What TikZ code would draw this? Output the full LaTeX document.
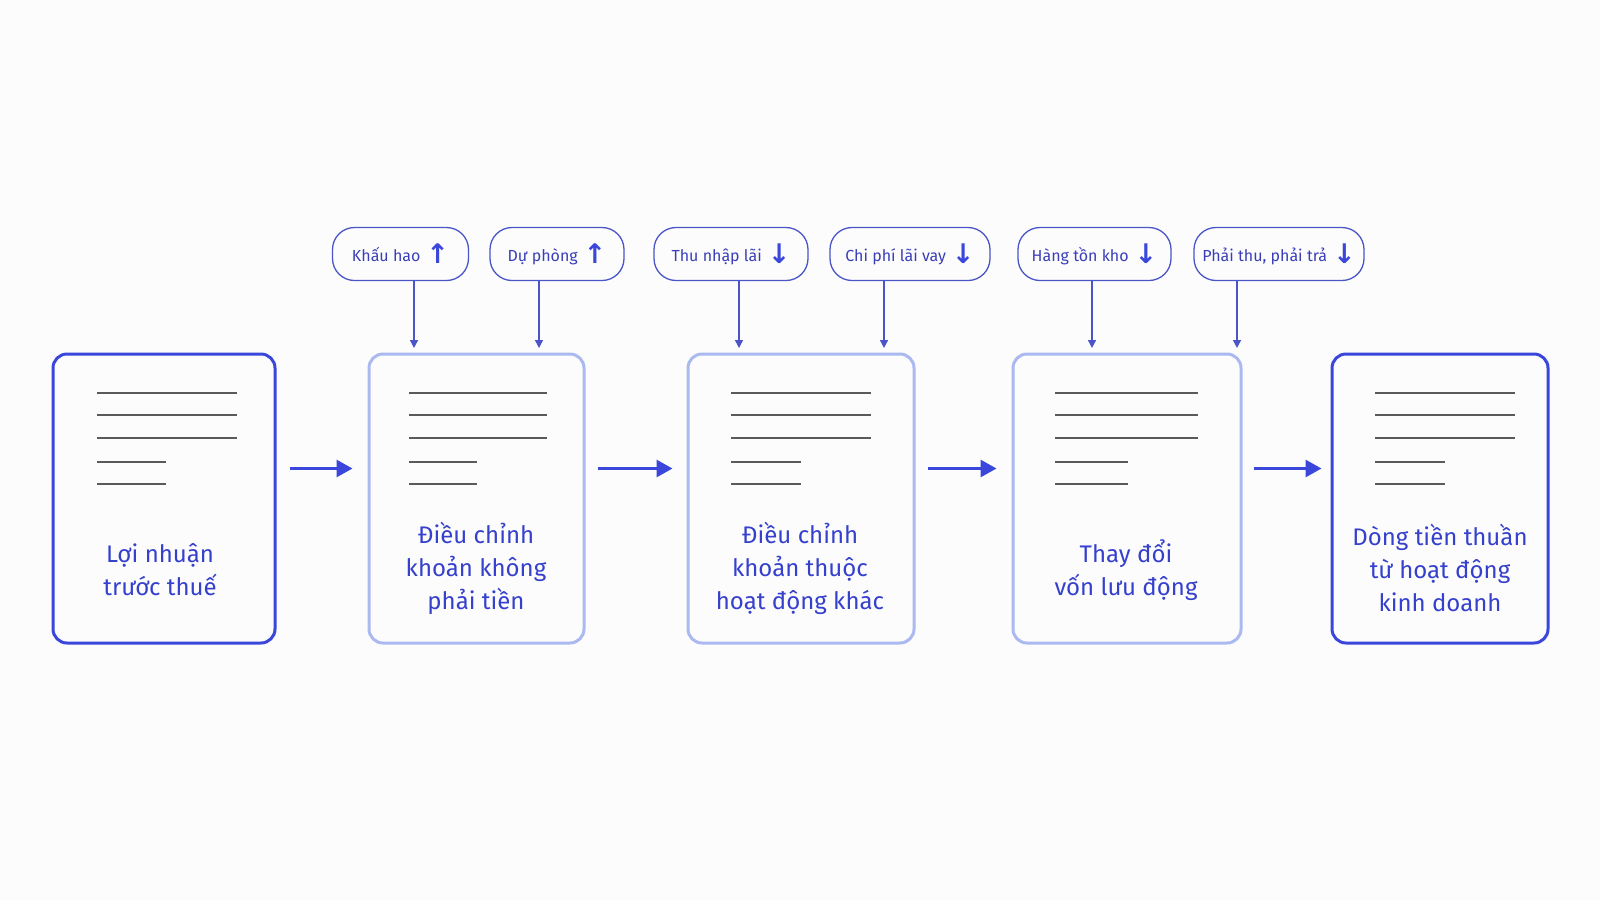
\documentclass[tikz,border=0pt]{standalone}
\usepackage{fontspec}
\setmainfont{Fira Sans}
\newfontfamily\symfont{DejaVu Sans}
\usetikzlibrary{arrows.meta,positioning,calc}
\definecolor{bluedark}{HTML}{3B47DA}
\definecolor{bluelight}{HTML}{AAB9F0}
\definecolor{pillline}{HTML}{4A55C8}
\definecolor{pilltext}{HTML}{3A3FB8}
\definecolor{txtblue}{HTML}{3540CC}
\definecolor{grayline}{HTML}{5A5A5A}
\definecolor{bgcol}{HTML}{FCFCFC}
\tikzset{
  mainbox/.style={draw=bluedark, line width=3pt, rounded corners=14pt, minimum width=#1, minimum height=289pt, inner sep=0pt},
  softbox/.style={draw=bluelight, line width=3pt, rounded corners=14pt, minimum width=#1, minimum height=289pt, inner sep=0pt},
  pill/.style={draw=pillline, line width=1.3pt, rounded corners=22pt, minimum height=53pt, inner sep=0pt, text=pilltext, font=\fontsize{16}{18}\selectfont},
  boxtext/.style={text=txtblue, align=center, font=\fontsize{24}{33}\selectfont},
  harrow/.style={draw=bluedark, line width=3pt, -{Triangle[length=16pt,width=17pt]}},
  varrow/.style={draw=pillline, line width=1.4pt, -{Triangle[length=8pt,width=8pt]}},
  docline/.style={draw=grayline, line width=1.8pt}
}
\newcommand{\uparr}{\hspace{6pt}\raisebox{-2pt}{\symfont\bfseries\fontsize{27}{27}\selectfont\textcolor{bluedark}{↑}}}
\newcommand{\dnarr}{\hspace{6pt}\raisebox{-2pt}{\symfont\bfseries\fontsize{27}{27}\selectfont\textcolor{bluedark}{↓}}}
\begin{document}
\begin{tikzpicture}[x=1pt,y=-1pt]
\fill[bgcol] (0,0) rectangle (1600,900);
\useasboundingbox (0,0) rectangle (1600,900);

% main boxes
\node[mainbox=222pt] (b1) at (164,498.5) {};
\node[softbox=215pt] (b2) at (476.5,498.5) {};
\node[softbox=226pt] (b3) at (801,498.5) {};
\node[softbox=228pt] (b4) at (1127,498.5) {};
\node[mainbox=216pt] (b5) at (1440,498.5) {};

% texts
\node[boxtext] (t1) at (160,570) {Lợi nhuận\\trước thuế};
\node[boxtext] (t2) at (476,568) {Điều chỉnh\\khoản không\\phải tiền};
\node[boxtext] (t3) at (800,568) {Điều chỉnh\\khoản thuộc\\hoạt động khác};
\node[boxtext] (t4) at (1126,570) {Thay đổi\\vốn lưu động};
\node[boxtext] (t5) at (1440,568) {Dòng tiền thuần\\từ hoạt động\\kinh doanh};

% document lines
\foreach \bx/\xa/\xb/\xc in {b1/97/237/166, b2/409/547/477, b3/731/871/801, b4/1055/1198/1128, b5/1375/1515/1445}{
  \draw[docline] (\xa,393) -- (\xb,393);
  \draw[docline] (\xa,415) -- (\xb,415);
  \draw[docline] (\xa,438) -- (\xb,438);
  \draw[docline] (\xa,462) -- (\xc,462);
  \draw[docline] (\xa,484) -- (\xc,484);
}

% horizontal arrows
\draw[harrow] ($(b1.east)+(13,-30)$) -- ($(b2.west)+(-15,-30)$);
\draw[harrow] ($(b2.east)+(12,-30)$) -- ($(b3.west)+(-14,-30)$);
\draw[harrow] ($(b3.east)+(12,-30)$) -- ($(b4.west)+(-15,-30)$);
\draw[harrow] ($(b4.east)+(11,-30)$) -- ($(b5.west)+(-9,-30)$);

% pills
\node[pill, minimum width=136pt] (p1) at (400.5,254) {Khấu hao\uparr};
\node[pill, minimum width=134pt] (p2) at (557,254) {Dự phòng\uparr};
\node[pill, minimum width=154pt] (p3) at (731,254) {Thu nhập lãi\dnarr};
\node[pill, minimum width=160pt] (p4) at (910,254) {Chi phí lãi vay\dnarr};
\node[pill, minimum width=153pt] (p5) at (1094.5,254) {Hàng tồn kho\dnarr};
\node[pill, minimum width=170pt] (p6) at (1279,254) {Phải thu, phải trả\dnarr};

% vertical arrows
\coordinate (e1) at (414,348);
\coordinate (e2) at (539,348);
\coordinate (e3) at (739,348);
\coordinate (e4) at (884,348);
\coordinate (e5) at (1092,348);
\coordinate (e6) at (1237,348);
\draw[varrow] (p1.south -| e1) -- (e1);
\draw[varrow] (p2.south -| e2) -- (e2);
\draw[varrow] (p3.south -| e3) -- (e3);
\draw[varrow] (p4.south -| e4) -- (e4);
\draw[varrow] (p5.south -| e5) -- (e5);
\draw[varrow] (p6.south -| e6) -- (e6);
\end{tikzpicture}
\end{document}
